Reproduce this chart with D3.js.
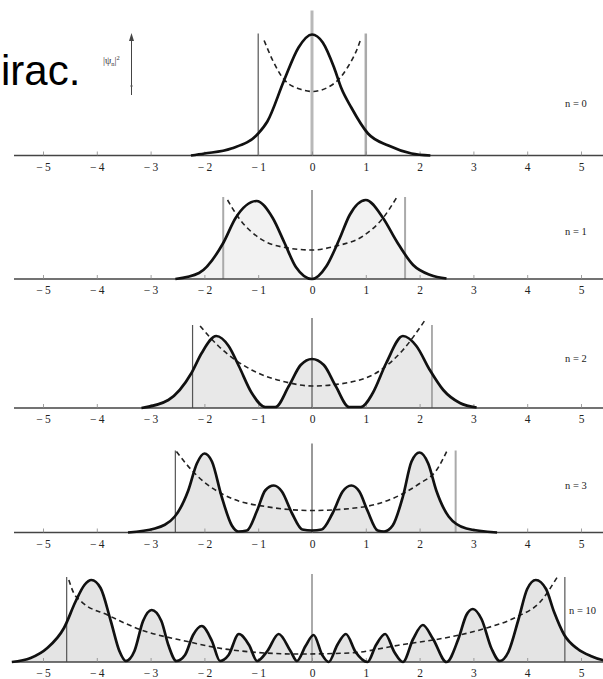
<!DOCTYPE html>
<html>
<head>
<meta charset="utf-8">
<script src="https://cdn.jsdelivr.net/npm/d3@7/dist/d3.min.js"></script>
<style>
  html, body { margin: 0; padding: 0; background: #fff; }
  svg { display: block; }
</style>
</head>
<body>
<div id="viz"></div>
<script>
// tick labels on every axis
const tickValues = [-5, -4, -3, -2, -1, 0, 1, 2, 3, 4, 5];
const stateLabels = ['n = 0', 'n = 1', 'n = 2', 'n = 3', 'n = 10'];

// |psi_n|^2 as [x, density]
const density0 = [[-2.25, 0], [-2.0, 0.02], [-1.5, 0.07], [-1.0, 0.22], [-0.83, 0.34], [-0.52, 0.75],
  [-0.25, 1.08], [0, 1.21], [0.2, 1.13], [0.41, 0.88], [0.54, 0.68], [0.73, 0.48], [1.04, 0.22],
  [1.42, 0.10], [1.85, 0.02], [2.2, 0]];
const density1 = [[-2.54, 0], [-2.10, 0.06], [-1.65, 0.36], [-1.42, 0.61], [-1.03, 0.78], [-0.73, 0.61],
  [-0.51, 0.36], [-0.30, 0.12], [0, 0], [0.27, 0.13], [0.51, 0.40], [0.70, 0.64], [1.0, 0.79],
  [1.32, 0.61], [1.57, 0.38], [1.88, 0.14], [2.2, 0.04], [2.5, 0.005]];
const density2 = [[-3.17, 0], [-2.67, 0.08], [-2.24, 0.35], [-2.05, 0.55], [-1.78, 0.72], [-1.55, 0.62],
  [-1.36, 0.42], [-1.12, 0.15], [-0.87, 0.01], [-0.68, 0.01], [-0.43, 0.22], [-0.21, 0.43], [0, 0.49],
  [0.22, 0.43], [0.44, 0.22], [0.69, 0.01], [0.91, 0.01], [1.13, 0.15], [1.38, 0.45], [1.69, 0.72],
  [1.94, 0.62], [2.19, 0.38], [2.44, 0.18], [2.75, 0.05], [3.06, 0.005]];
const density3 = [[-3.42, 0], [-2.92, 0.04], [-2.55, 0.16], [-2.30, 0.42], [-2.14, 0.69], [-2.0, 0.79],
  [-1.86, 0.71], [-1.68, 0.36], [-1.49, 0.07], [-1.37, 0.01], [-1.21, 0.02], [-1.02, 0.22], [-0.87, 0.42],
  [-0.71, 0.47], [-0.56, 0.41], [-0.37, 0.19], [-0.18, 0.03], [0, 0.02], [0.18, 0.03], [0.38, 0.19],
  [0.57, 0.41], [0.73, 0.47], [0.88, 0.41], [1.03, 0.22], [1.22, 0.02], [1.34, 0.01], [1.50, 0.07],
  [1.69, 0.36], [1.85, 0.71], [2.0, 0.80], [2.16, 0.69], [2.31, 0.42], [2.54, 0.16], [2.87, 0.04], [3.44, 0]];
const density10 = [[-5.58, 0], [-5.23, 0.04], [-4.92, 0.14], [-4.61, 0.34], [-4.39, 0.61], [-4.23, 0.77],
  [-4.10, 0.82], [-3.93, 0.74], [-3.74, 0.41], [-3.58, 0.11], [-3.46, 0.01], [-3.30, 0.11], [-3.14, 0.41],
  [-2.98, 0.52], [-2.80, 0.41], [-2.67, 0.17], [-2.52, 0.01], [-2.36, 0.07], [-2.21, 0.27], [-2.05, 0.36],
  [-1.86, 0.21], [-1.71, 0.01], [-1.55, 0.07], [-1.36, 0.28], [-1.17, 0.17], [-1.02, 0.01], [-0.83, 0.11],
  [-0.62, 0.28], [-0.40, 0.11], [-0.28, 0.01], [-0.12, 0.16], [0.03, 0.27], [0.19, 0.07], [0.31, 0],
  [0.47, 0.17], [0.63, 0.28], [0.81, 0.10], [1.03, 0], [1.19, 0.17], [1.36, 0.28], [1.53, 0.10],
  [1.69, 0], [1.88, 0.23], [2.06, 0.37], [2.25, 0.23], [2.50, 0], [2.72, 0.23], [2.87, 0.47],
  [2.99, 0.53], [3.15, 0.43], [3.34, 0.13], [3.49, 0.01], [3.65, 0.10], [3.84, 0.43], [4.00, 0.73],
  [4.16, 0.82], [4.35, 0.73], [4.50, 0.50], [4.69, 0.27], [4.94, 0.13], [5.18, 0.06], [5.40, 0.02], [5.6, 0.01]];

// dashed potential curve in each panel
const potential0 = [[-0.89, 1.15], [-0.72, 0.94], [-0.52, 0.76], [-0.2, 0.66], [0, 0.64], [0.41, 0.72],
  [0.66, 0.88], [0.85, 1.08], [0.91, 1.17]];
const potential1 = [[-1.57, 0.79], [-1.36, 0.61], [-0.98, 0.41], [-0.55, 0.32], [0, 0.29], [0.45, 0.33],
  [0.95, 0.43], [1.32, 0.61], [1.58, 0.82]];
const potential2 = [[-2.08, 0.82], [-1.74, 0.62], [-1.12, 0.38], [-0.49, 0.26], [0, 0.22], [0.63, 0.25],
  [1.25, 0.37], [1.69, 0.58], [2.09, 0.87]];
const potential3 = [[-2.52, 0.81], [-2.36, 0.70], [-2.12, 0.56], [-1.49, 0.34], [-0.87, 0.26], [0, 0.22],
  [0.88, 0.25], [1.50, 0.34], [2.0, 0.49], [2.31, 0.62], [2.53, 0.84]];
const potential10 = [[-4.52, 0.82], [-4.43, 0.69], [-4.30, 0.61], [-3.80, 0.47], [-3.17, 0.32], [-2.36, 0.21],
  [-1.49, 0.12], [-0.25, 0.08], [0.69, 0.09], [1.63, 0.17], [2.56, 0.25], [3.18, 0.33], [3.80, 0.45],
  [4.24, 0.60], [4.56, 0.85]];

// classical turning points
const turningPoints = [[-1, 1], [-1.65, 1.73], [-2.22, 2.23], [-2.54, 2.67], [-4.56, 4.70]];

const densities = [density0, density1, density2, density3, density10];
const potentials = [potential0, potential1, potential2, potential3, potential10];

// layout / style per panel
const panels = [
  { axisY: 155.5, labelY: 103, labelX: 565, fill: 'none', turnH: 1.22, centerH: 1.45,
    center: ['#b8b8b8', 3], left: ['#555', 1.2], right: ['#aaa', 2.5] },
  { axisY: 279, labelY: 231, labelX: 565, fill: '#f2f2f2', turnH: 0.82, centerH: 0.89,
    center: ['#666', 1.2], left: ['#aaa', 2], right: ['#aaa', 2] },
  { axisY: 408, labelY: 358, labelX: 565, fill: '#e8e8e8', turnH: 0.83, centerH: 0.90,
    center: ['#555', 1.2], left: ['#555', 1.2], right: ['#999', 1.6] },
  { axisY: 532.5, labelY: 485, labelX: 565, fill: '#e6e6e6', turnH: 0.82, centerH: 0.89,
    center: ['#555', 1.2], left: ['#555', 1.2], right: ['#aaa', 2] },
  { axisY: 662, labelY: 610, labelX: 569, fill: '#e4e4e4', turnH: 0.85, centerH: 0.88,
    center: ['#aaa', 2], left: ['#555', 1.2], right: ['#555', 1.2] }
];

const width = 603, height = 679;
const svg = d3.select('#viz').append('svg')
  .attr('width', width)
  .attr('height', height);

const x = d3.scaleLinear().domain([-5, 5]).range([43, 581]);
const fmt = d => d < 0 ? '\u2212\u2009' + Math.abs(d) : String(d);

// leftover slide text
svg.append('text')
  .attr('x', 1).attr('y', 85)
  .attr('font-family', 'Liberation Sans, Arial, sans-serif')
  .attr('font-size', 42)
  .attr('fill', '#000')
  .text('irac.');

panels.forEach((p, i) => {
  const y = d3.scaleLinear().domain([0, 1]).range([p.axisY, p.axisY - 100]);
  const g = svg.append('g');

  const area = d3.area().x(d => x(d[0])).y0(y(0)).y1(d => y(d[1])).curve(d3.curveMonotoneX);
  const line = d3.line().x(d => x(d[0])).y(d => y(d[1])).curve(d3.curveMonotoneX);

  if (p.fill !== 'none') {
    g.append('path').attr('d', area(densities[i])).attr('fill', p.fill);
  }

  // vertical guide lines
  const vlines = [
    { v: 0, h: p.centerH, s: p.center },
    { v: turningPoints[i][0], h: p.turnH, s: p.left },
    { v: turningPoints[i][1], h: p.turnH, s: p.right }
  ];
  g.selectAll('line.v').data(vlines).join('line')
    .attr('class', 'v')
    .attr('x1', d => x(d.v)).attr('x2', d => x(d.v))
    .attr('y1', y(0)).attr('y2', d => y(d.h))
    .attr('stroke', d => d.s[0])
    .attr('stroke-width', d => d.s[1]);

  // axis line
  g.append('line')
    .attr('x1', 14).attr('x2', width)
    .attr('y1', p.axisY).attr('y2', p.axisY)
    .attr('stroke', '#444').attr('stroke-width', 1.6);

  const axis = d3.axisBottom(x).tickValues(tickValues).tickFormat(fmt)
    .tickSizeInner(-4).tickSizeOuter(0).tickPadding(7);
  const ax = g.append('g').attr('transform', `translate(0,${p.axisY})`).call(axis);
  ax.select('.domain').remove();
  ax.selectAll('.tick line').attr('stroke', '#888').attr('stroke-width', 0.8);
  ax.selectAll('.tick text')
    .attr('font-family', 'Liberation Serif, Times New Roman, serif')
    .attr('font-size', 11.5)
    .attr('fill', '#222');

  // potential
  g.append('path').attr('d', line(potentials[i]))
    .attr('fill', 'none')
    .attr('stroke', '#222')
    .attr('stroke-width', 1.6)
    .attr('stroke-dasharray', '5,3.5');

  // probability density
  g.append('path').attr('d', line(densities[i]))
    .attr('fill', 'none')
    .attr('stroke', '#111')
    .attr('stroke-width', 2.7)
    .attr('stroke-linejoin', 'round');

  g.append('text')
    .attr('x', p.labelX).attr('y', p.labelY)
    .attr('dy', '0.35em')
    .attr('font-family', 'Liberation Serif, Times New Roman, serif')
    .attr('font-size', 10.5)
    .attr('fill', '#222')
    .text(stateLabels[i]);
});

// little y-axis arrow with |psi_n|^2
const ya = svg.append('g');
ya.append('line').attr('x1', 131.5).attr('x2', 131.5).attr('y1', 95).attr('y2', 38)
  .attr('stroke', '#444').attr('stroke-width', 1);
ya.append('path').attr('d', 'M131.5,33 L129,41 L134,41 Z').attr('fill', '#444');
ya.append('line').attr('x1', 130).attr('x2', 133).attr('y1', 86).attr('y2', 86)
  .attr('stroke', '#666').attr('stroke-width', 0.8);
const lab = ya.append('text')
  .attr('x', 103).attr('y', 64)
  .attr('font-family', 'Liberation Serif, Times New Roman, serif')
  .attr('font-size', 10)
  .attr('fill', '#333');
lab.append('tspan').text('|\u03c8');
lab.append('tspan').attr('font-size', 6.5).attr('dy', 2).text('n');
lab.append('tspan').attr('dy', -2).text('|');
lab.append('tspan').attr('font-size', 6.5).attr('dy', -4).text('2');
</script>
</body>
</html>
